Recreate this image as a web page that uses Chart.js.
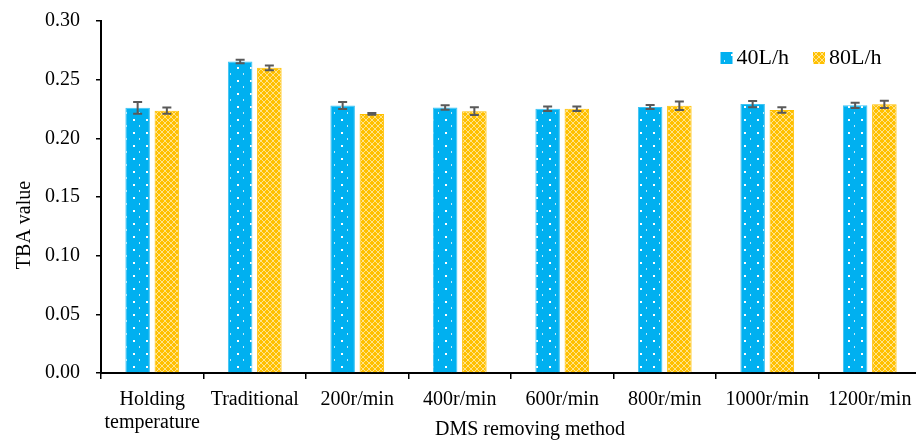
<!DOCTYPE html>
<html>
<head>
<meta charset="utf-8">
<script src="https://cdn.jsdelivr.net/npm/chart.js@4.4.1/dist/chart.umd.min.js"></script>
<style>
  html, body { margin: 0; padding: 0; background: #fff; overflow: hidden; }
  canvas { display: block; }
</style>
</head>
<body>
<canvas id="chart" width="930" height="441"></canvas>
<script>
// values
const categories = [["Holding", "temperature"], "Traditional", "200r/min", "400r/min", "600r/min", "800r/min", "1000r/min", "1200r/min"];
const seriesNames = ["40L/h", "80L/h"];
const tba40 = [0.226, 0.2655, 0.228, 0.2263, 0.2252, 0.2268, 0.2292, 0.2281];
const err40 = [0.005, 0.0015, 0.003, 0.002, 0.002, 0.0017, 0.0027, 0.0023];
const tba80 = [0.2236, 0.2601, 0.2208, 0.2231, 0.2252, 0.2277, 0.2241, 0.229];
const err80 = [0.0026, 0.002, 0.0007, 0.0033, 0.002, 0.0036, 0.0023, 0.0031];

const FONT = "'Liberation Serif', 'Times New Roman', serif";

function dotPattern() {
    const c = document.createElement("canvas");
    c.width = 13; c.height = 13;
    const g = c.getContext("2d");
    g.fillStyle = "#00B0F0";
    g.fillRect(0, 0, 13, 13);
    g.fillStyle = "#ffffff";
    g.fillRect(3, 2, 2, 2);
    g.globalAlpha = 0.75;
    g.fillRect(9, 8, 1, 2);
    return g.createPattern(c, "repeat");
}

function latticePattern() {
    const c = document.createElement("canvas");
    c.width = 6; c.height = 6;
    const g = c.getContext("2d");
    g.fillStyle = "#FFC000";
    g.fillRect(0, 0, 6, 6);
    g.fillStyle = "rgba(255,255,255,0.55)";
    for (let i = 0; i < 6; i++) {
        g.fillRect(i, i, 1, 1);
        if (5 - i !== i) g.fillRect(5 - i, i, 1, 1);
    }
    return g.createPattern(c, "repeat");
}

const blueFill = dotPattern();
const yellowFill = latticePattern();

const errorBars = {
    id: "errorBars",
    afterDatasetsDraw(chart) {
        const ctx = chart.ctx;
        const y = chart.scales.y;
        ctx.save();
        ctx.strokeStyle = "#595959";
        ctx.lineWidth = 2;
        chart.data.datasets.forEach((ds, d) => {
            const meta = chart.getDatasetMeta(d);
            meta.data.forEach((bar, i) => {
                const v = ds.data[i], e = ds.errors[i];
                const top = y.getPixelForValue(v + e);
                const bot = y.getPixelForValue(v - e);
                ctx.beginPath();
                ctx.moveTo(bar.x, top); ctx.lineTo(bar.x, bot);
                ctx.moveTo(bar.x - 4.5, top); ctx.lineTo(bar.x + 4.5, top);
                ctx.moveTo(bar.x - 4.5, bot); ctx.lineTo(bar.x + 4.5, bot);
                ctx.stroke();
            });
        });
        ctx.restore();
    }
};

// legend and axis titles sit where Excel put them, not where Chart.js would
const extras = {
    id: "extras",
    afterDraw(chart) {
        const ctx = chart.ctx;
        ctx.save();
        ctx.fillStyle = "#000";
        ctx.font = "20px " + FONT;
        ctx.textAlign = "center";
        ctx.textBaseline = "middle";
        ctx.fillText("DMS removing method", 530, 430);
        ctx.translate(25, 225);
        ctx.rotate(-Math.PI / 2);
        ctx.fillText("TBA value", 0, 0);
        ctx.restore();

        ctx.save();
        ctx.font = "22px " + FONT;
        ctx.textBaseline = "alphabetic";
        ctx.textAlign = "left";
        const boxes = [720.5, 813];
        chart.data.datasets.forEach((ds, d) => {
            const bx = boxes[d];
            ctx.fillStyle = ds.backgroundColor;
            ctx.fillRect(bx, 52, 12, 12);
            ctx.fillStyle = "#000";
            ctx.fillText(ds.label, bx + 16, 64);
        });
        ctx.restore();
    }
};

new Chart(document.getElementById("chart"), {
    type: "bar",
    data: {
        labels: categories,
        datasets: [
            {
                label: seriesNames[0],
                data: tba40,
                errors: err40,
                backgroundColor: blueFill,
                borderColor: "#3cc3f3",
                borderWidth: 1,
                categoryPercentage: 0.57,
                barPercentage: 0.84
            },
            {
                label: seriesNames[1],
                data: tba80,
                errors: err80,
                backgroundColor: yellowFill,
                borderColor: "#FFC000",
                borderWidth: 1,
                categoryPercentage: 0.57,
                barPercentage: 0.84
            }
        ]
    },
    options: {
        responsive: false,
        animation: false,
        devicePixelRatio: 1,
        layout: { padding: { top: 21, right: 9, bottom: 0, left: 0 } },
        plugins: {
            legend: { display: false },
            tooltip: { enabled: false }
        },
        scales: {
            x: {
                afterFit(s) { s.height = 68; },
                grid: {
                    offset: true,
                    drawOnChartArea: false,
                    tickLength: 6,
                    color: "#000",
                    lineWidth: 1.5
                },
                border: { color: "#000", width: 2 },
                ticks: {
                    color: "#000",
                    padding: 9,
                    maxRotation: 0,
                    autoSkip: false,
                    font: { family: FONT, size: 20, lineHeight: 1.15 }
                }
            },
            y: {
                min: 0,
                max: 0.3,
                afterFit(s) { s.width = 101; },
                grid: {
                    drawOnChartArea: false,
                    tickLength: 5,
                    color: "#000",
                    lineWidth: 1.5
                },
                border: { color: "#000", width: 2 },
                ticks: {
                    stepSize: 0.05,
                    color: "#000",
                    padding: 16,
                    font: { family: FONT, size: 20, lineHeight: 0.5 },
                    callback: v => v.toFixed(2)
                }
            }
        }
    },
    plugins: [errorBars, extras]
});
</script>
</body>
</html>
